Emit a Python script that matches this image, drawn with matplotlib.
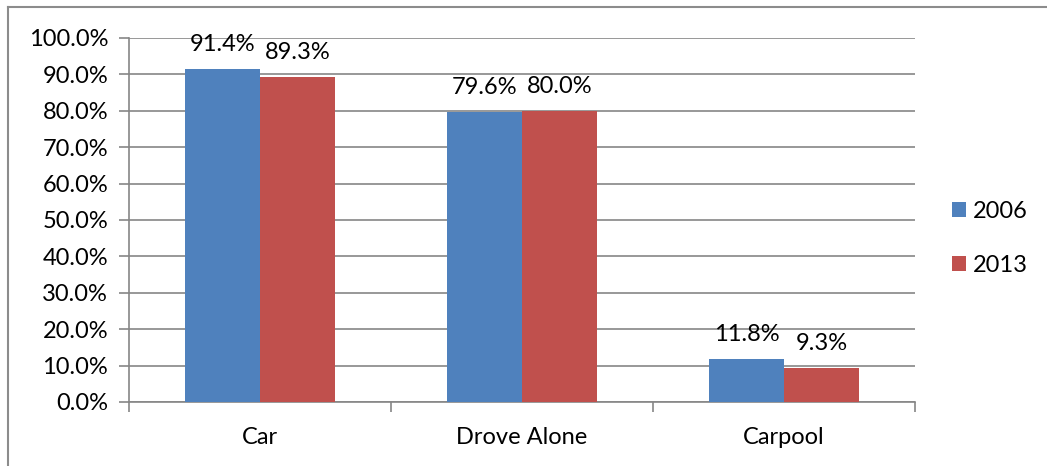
import matplotlib
matplotlib.use("Agg")
import matplotlib.pyplot as plt
import numpy as np
from matplotlib.lines import Line2D

# --- data ---
categories = ["Car", "Drove Alone", "Carpool"]
years = ["2006", "2013"]
share_2006 = [91.4, 79.6, 11.8]
share_2013 = [89.3, 80.0, 9.3]

colors = ["#4F81BD", "#C0504D"]
grid_col = "#868686"

plt.rcParams["font.family"] = ["Lato", "DejaVu Sans"]
plt.rcParams["font.size"] = 17

fig = plt.figure(figsize=(10.47, 4.66), dpi=100)
ax = fig.add_axes([129 / 1047, 1 - 402 / 466, (915 - 129) / 1047, (402 - 38) / 466])

# outer chart border (only top and left edges are visible in the crop)
bx, by = 8 / 1047, 1 - 7 / 466
fig.lines.append(Line2D([bx, 1], [by, by], transform=fig.transFigure,
                        color="#8C8C8C", linewidth=1.5))
fig.lines.append(Line2D([bx, bx], [0, by], transform=fig.transFigure,
                        color="#8C8C8C", linewidth=1.5))

x = np.arange(len(categories))
w = 0.286
for i, (vals, yr) in enumerate(zip([share_2006, share_2013], years)):
    pos = x + (i - 0.5) * w
    bars = ax.bar(pos, vals, width=w, color=colors[i], label=yr, zorder=3)
    for b, v in zip(bars, vals):
        ax.annotate(f"{v:.1f}%", (b.get_x() + b.get_width() / 2, v),
                    xytext=(0, 10), textcoords="offset points",
                    ha="center", va="bottom", fontsize=17, zorder=4,
                    annotation_clip=False)

ax.set_xlim(-0.5, 2.5)
ax.set_ylim(0, 100)
ax.set_yticks(np.arange(0, 101, 10))
ax.set_yticklabels([f"{t:.1f}%" for t in np.arange(0, 101, 10)])
ax.yaxis.grid(True, color=grid_col, linewidth=1.2, zorder=0)

ax.set_xticks(x)
ax.set_xticklabels(categories)
ax.set_xticks([-0.5, 0.5, 1.5, 2.5], minor=True)
ax.tick_params(axis="x", which="major", length=0, pad=18)
ax.tick_params(axis="x", which="minor", length=7, color=grid_col, width=1.2)
ax.tick_params(axis="y", length=7, color=grid_col, width=1.2, pad=8)

for s in ["top", "right"]:
    ax.spines[s].set_visible(False)
for s in ["left", "bottom"]:
    ax.spines[s].set_color(grid_col)
    ax.spines[s].set_linewidth(1.2)

ax.legend(loc="center left", bbox_to_anchor=(1.02, 0.45), frameon=False,
          handlelength=0.6, handleheight=0.6, handletextpad=0.3,
          labelspacing=1.4, fontsize=17)

fig.savefig("out.png", dpi=100)
